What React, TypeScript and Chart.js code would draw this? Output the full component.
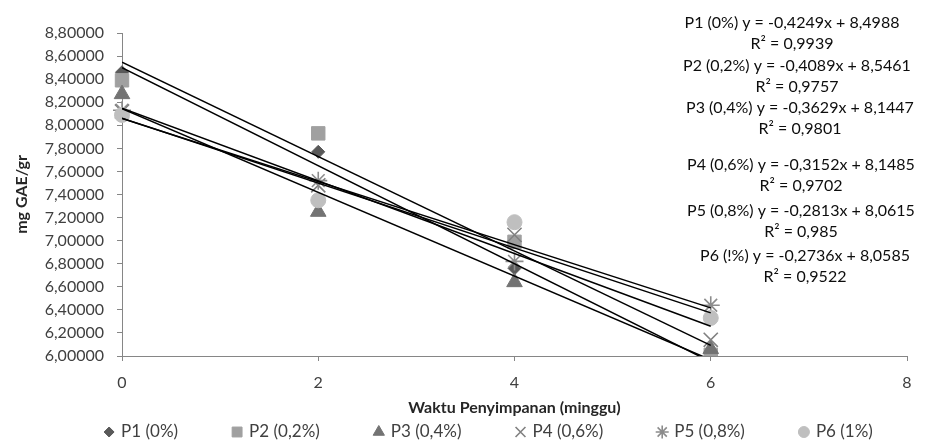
import React, { useEffect, useRef } from 'react';
import { Chart, registerables } from 'chart.js';
import { drawPoint } from 'chart.js/helpers';

Chart.register(...registerables);

// ---- data ----
const weeks = [0, 2, 4, 6];
const seriesLabels = ['P1 (0%)', 'P2 (0,2%)', 'P3 (0,4%)', 'P4 (0,6%)', 'P5 (0,8%)', 'P6 (1%)'];
const p1 = [8.46, 7.77, 6.76, 5.93];
const p2 = [8.39, 7.93, 6.99, 6.01];
const p3 = [8.27, 7.25, 6.64, 6.06];
const p4 = [8.12, 7.48, 7.05, 6.14];
const p5 = [8.13, 7.52, 6.82, 6.44];
const p6 = [8.09, 7.35, 7.16, 6.33];
const slopes = [-0.4249, -0.4089, -0.3629, -0.3152, -0.2813, -0.2736];
const intercepts = [8.4988, 8.5461, 8.1447, 8.1485, 8.0615, 8.0585];
const equationLabels = [
  'P1 (0%) y = -0,4249x + 8,4988',
  'P2 (0,2%) y = -0,4089x + 8,5461',
  'P3 (0,4%) y = -0,3629x + 8,1447',
  'P4 (0,6%) y = -0,3152x + 8,1485',
  'P5 (0,8%) y = -0,2813x + 8,0615',
  'P6 (!%) y = -0,2736x + 8,0585',
];
const r2Labels = ['R² = 0,9939', 'R² = 0,9757', 'R² = 0,9801', 'R² = 0,9702', 'R² = 0,985', 'R² = 0,9522'];
const xAxisTitle = 'Waktu Penyimpanan (minggu)';
const yAxisTitle = 'mg GAE/gr';
const yMin = 6;
const yMax = 8.8;
const yStep = 0.2;
const xMin = 0;
const xMax = 8;
const xStep = 2;

// ---- styles ----
const FONT = "Lato, 'Open Sans', sans-serif";
const pointStyles = ['rectRot', 'rect', 'triangle', 'crossRot', 'star', 'circle'];
const pointColors = ['#595959', '#a0a0a0', '#737373', '#808080', '#8c8c8c', '#bfbfbf'];
const pointRadii = [6.5, 9.5, 9, 10, 9, 7.5];
const legendRadii = [5, 7, 6.5, 7, 6.5, 5.5];
const eqCenters = [792, 797, 800, 801, 801, 805];
const eqTops = [23, 66, 108, 165, 211, 256];

const equationPlugin = {
  id: 'equations',
  afterDatasetsDraw(chart: any) {
    const ctx = chart.ctx;
    ctx.save();
    ctx.font = `16px ${FONT}`;
    ctx.fillStyle = '#0d0d0d';
    ctx.textAlign = 'center';
    ctx.textBaseline = 'middle';
    equationLabels.forEach((t, i) => {
      ctx.fillText(t, eqCenters[i], eqTops[i]);
      ctx.fillText(r2Labels[i], eqCenters[i], eqTops[i] + 21);
    });
    ctx.restore();
  },
};

const legendPlugin = {
  id: 'bottomLegend',
  afterDraw(chart: any) {
    const ctx = chart.ctx;
    const items = chart.data.datasets.filter((d: any) => !d.isTrend);
    ctx.save();
    ctx.font = `17px ${FONT}`;
    ctx.textBaseline = 'middle';
    ctx.textAlign = 'left';
    const widths = items.map((d: any) => ctx.measureText(d.label).width);
    const half = 5;
    const toText = 12;
    const toNext = 59;
    const total = half + widths.reduce((a: number, w: number) => a + toText + w, 0) + toNext * (items.length - 1);
    const centerX = (chart.chartArea.left + chart.chartArea.right) / 2 - 26;
    const y = chart.height - 11;
    let x = centerX - total / 2 + half;
    items.forEach((d: any, i: number) => {
      ctx.fillStyle = d.backgroundColor;
      ctx.strokeStyle = d.borderColor;
      ctx.lineWidth = d.pointBorderWidth;
      drawPoint(ctx, { pointStyle: d.pointStyle, radius: legendRadii[i], rotation: 0, borderWidth: d.pointBorderWidth }, x, y);
      ctx.fillStyle = '#404040';
      ctx.fillText(d.label, x + toText, y);
      x += toText + widths[i] + toNext;
    });
    ctx.restore();
  },
};

export default function App() {
  const ref = useRef<HTMLCanvasElement>(null);
  useEffect(() => {
    document.body.style.margin = '0';
    const series = [p1, p2, p3, p4, p5, p6];
    const pointSets = series.map((vals, i) => ({
      type: 'scatter' as const,
      label: seriesLabels[i],
      data: weeks.map((w, j) => ({ x: w, y: vals[j] })),
      pointStyle: pointStyles[i],
      pointRadius: pointRadii[i],
      pointHoverRadius: pointRadii[i],
      backgroundColor: pointColors[i],
      borderColor: pointColors[i],
      pointBorderWidth: pointStyles[i] === 'crossRot' || pointStyles[i] === 'star' ? 1.6 : 1,
      showLine: false,
      order: 6 - i + 1,
      clip: { left: 14, right: 14, top: 14, bottom: 0 },
    }));
    const trendSets = slopes.map((m, i) => {
      const x0 = weeks[0];
      const x1 = weeks[weeks.length - 1];
      return {
        type: 'line' as const,
        label: 'trend ' + seriesLabels[i],
        isTrend: true,
        data: [
          { x: x0, y: intercepts[i] + m * x0 },
          { x: x1, y: intercepts[i] + m * x1 },
        ],
        borderColor: '#000000',
        backgroundColor: '#000000',
        borderWidth: 1.5,
        pointRadius: 0,
        showLine: true,
        fill: false,
        order: 0,
        clip: 0,
      };
    });
    const chart = new Chart(ref.current!, {
      type: 'scatter',
      data: { datasets: [...pointSets, ...trendSets] as any },
      options: {
        animation: false,
        responsive: false,
        devicePixelRatio: 1,
        layout: { padding: { top: 33, left: 0, right: 18, bottom: 0 } },
        plugins: { legend: { display: false }, tooltip: { enabled: false } },
        scales: {
          x: {
            type: 'linear',
            min: xMin,
            max: xMax,
            ticks: { stepSize: xStep, color: '#404040', font: { family: FONT, size: 16 }, padding: 12 },
            grid: { display: true, drawOnChartArea: false, drawTicks: true, tickLength: 5, color: '#868686' },
            border: { display: true, color: '#868686', width: 1 },
            title: {
              display: true,
              text: xAxisTitle,
              color: '#262626',
              font: { family: FONT, size: 16, weight: 'bold' },
              padding: { top: 0, bottom: 26 },
            },
            afterFit: (s: any) => { s.height = 87; },
          },
          y: {
            type: 'linear',
            min: yMin,
            max: yMax,
            ticks: {
              stepSize: yStep,
              color: '#404040',
              font: { family: FONT, size: 16 },
              padding: 13,
              callback: (v: any) => Number(v).toFixed(5).replace('.', ','),
            },
            grid: { display: true, drawOnChartArea: false, drawTicks: true, tickLength: 5, color: '#868686' },
            border: { display: true, color: '#868686', width: 1 },
            title: {
              display: true,
              text: yAxisTitle,
              color: '#262626',
              font: { family: FONT, size: 16, weight: 'bold' },
              padding: { top: 12, bottom: 0 },
            },
            afterFit: (s: any) => { s.width = 122; },
          },
        },
      } as any,
      plugins: [equationPlugin, legendPlugin],
    });
    return () => chart.destroy();
  }, []);
  return (
    <div style={{ width: 925, height: 443 }}>
      <canvas ref={ref} width={925} height={443} />
    </div>
  );
}
